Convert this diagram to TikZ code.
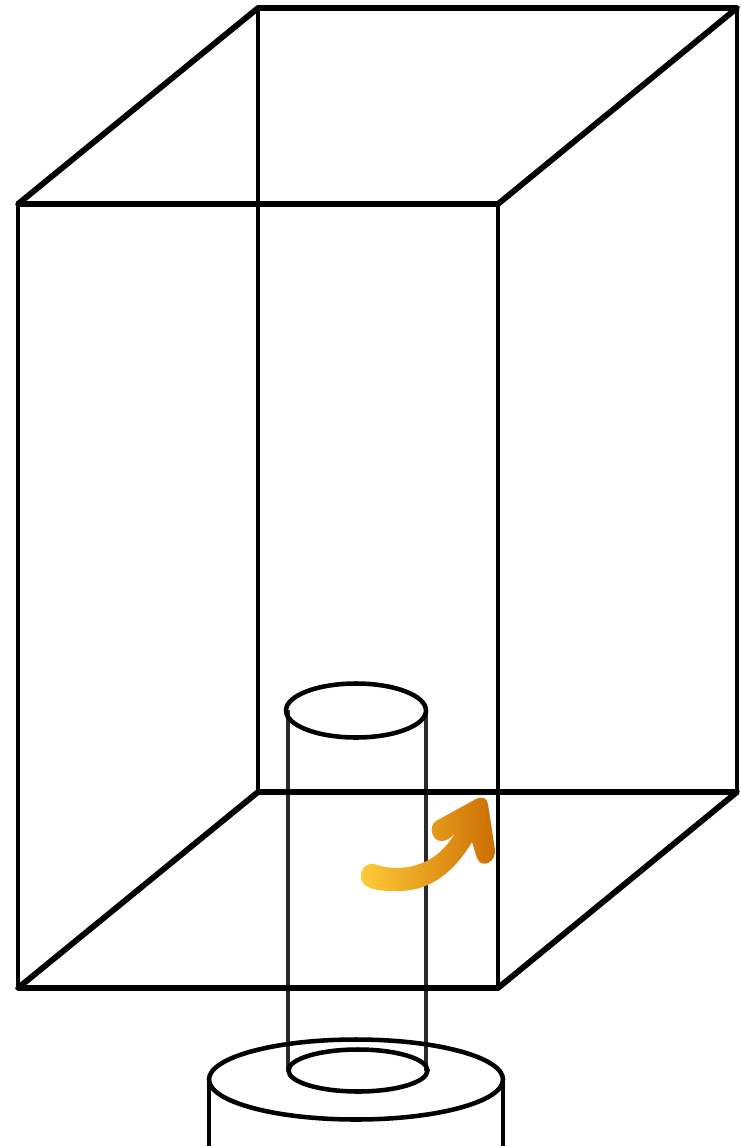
\documentclass[tikz,border=0pt]{standalone}
\usepackage{xcolor}
\usepackage{tikz}
\definecolor{edge}{HTML}{000000}
\definecolor{tube}{HTML}{2A2A2A}
\definecolor{amberlight}{HTML}{FFCB38}
\definecolor{ambermid}{HTML}{FF9D0A}
\definecolor{amberdark}{HTML}{CC6E03}

\begin{document}
\begin{tikzpicture}[
  x=0.75pt,y=-0.75pt,
  boxedge/.style={draw=edge,line width=4.4pt,line join=round,line cap=round},
  backedge/.style={draw=edge,line width=3.6pt,line cap=round},
  tubeedge/.style={draw=tube,line width=2.7pt},
  rimedge/.style={draw=edge,line width=3.4pt},
  baseedge/.style={draw=edge,line width=3pt}
]
\useasboundingbox (0,0) rectangle (741,1146);
\coordinate (ftl) at (18,204); \coordinate (ftr) at (498,204);
\coordinate (fbl) at (18,988); \coordinate (fbr) at (498,988);
\coordinate (btl) at (258,8); \coordinate (btr) at (737,8);
\coordinate (bbl) at (258,792); \coordinate (bbr) at (737,792);

% tube behind the box lines
\draw[tubeedge] (288,710) -- (288,1071);
\draw[tubeedge] (426,710) -- (426,1071);

% box
\draw[boxedge] (ftl) -- (ftr) -- (btr) -- (btl) -- cycle;
\draw[boxedge] (fbl) -- (fbr) -- (bbr) -- (bbl) -- cycle;
\draw[backedge] (ftl) -- (fbl); \draw[backedge] (ftr) -- (fbr);
\draw[backedge] (btl) -- (bbl); \draw[backedge] (btr) -- (bbr);

% cylinders
\draw[rimedge] (356,710.5) ellipse [x radius=70,y radius=27];
\draw[baseedge] (209,1080) -- (209,1146);
\draw[baseedge] (503,1080) -- (503,1146);
\draw[rimedge] (356,1079.5) ellipse [x radius=147,y radius=40];
\draw[rimedge] (358,1070.5) ellipse [x radius=69.5,y radius=21];

% arrow
\shade[left color=amberlight,middle color=ambermid,right color=amberdark]
  (361,877) .. controls (361,868) and (366,863) .. (374,864)
  .. controls (400,873) and (435,868) .. (455,833)
  .. controls (450,839) and (446,841) .. (441,841)
  .. controls (432,841) and (428,826) .. (436,821)
  -- (476,799) .. controls (482,796) and (487,798) .. (488,804)
  -- (495,850) .. controls (496,863) and (481,869) .. (477,858)
  -- (472,842) .. controls (455,870) and (432,892) .. (395,891)
  .. controls (380,891) and (362,890) .. (361,877) -- cycle;
\end{tikzpicture}
\end{document}
